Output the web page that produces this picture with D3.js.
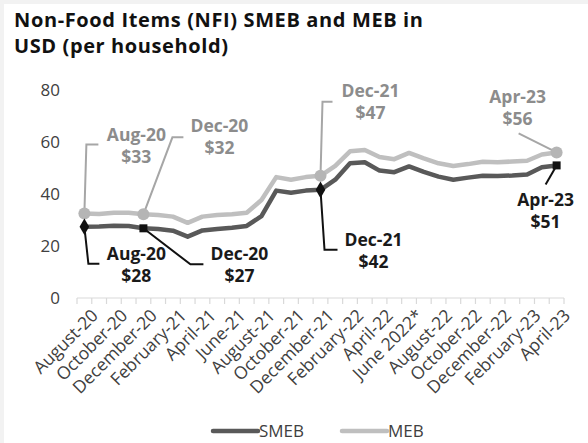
<!DOCTYPE html>
<html><head><meta charset="utf-8">
<script src="https://cdn.jsdelivr.net/npm/d3@7"></script>
<style>
body{margin:0;background:#fff;}
svg{display:block;font-family:"Open Sans",sans-serif;}
</style></head>
<body>
<svg id="c" width="588" height="443"></svg>
<script>
const categories = ["August-20","September-20","October-20","November-20","December-20","January-21","February-21","March-21","April-21","May-21","June-21","July-21","August-21","September-21","October-21","November-21","December-21","January-22","February-22","March-22","April-22","May-22","June 2022*","July-22","August-22","September-22","October-22","November-22","December-22","January-23","February-23","March-23","April-23"];
const smeb = [27.4,27.5,27.8,27.7,26.8,26.5,25.9,23.6,26.0,26.5,27.0,27.7,31.5,41.3,40.5,41.3,41.6,45.5,51.8,52.2,49.0,48.4,50.6,48.5,46.7,45.5,46.3,47.0,46.9,47.1,47.5,50.3,51.0];
const meb = [32.5,32.3,32.8,32.8,32.2,31.9,31.3,28.9,31.3,31.9,32.2,32.8,37.7,46.5,45.5,46.5,47.0,50.8,56.4,56.9,54.2,53.4,55.8,53.7,51.8,50.8,51.5,52.4,52.2,52.5,52.8,55.2,56.0];
const yTicks = [0,20,40,60,80];
const seriesNames = ["SMEB","MEB"];
const annotations = [
  {series:"MEB", cat:"August-20", l1:"Aug-20", l2:"$33"},
  {series:"MEB", cat:"December-20", l1:"Dec-20", l2:"$32"},
  {series:"MEB", cat:"December-21", l1:"Dec-21", l2:"$47"},
  {series:"MEB", cat:"April-23", l1:"Apr-23", l2:"$56"},
  {series:"SMEB", cat:"August-20", l1:"Aug-20", l2:"$28"},
  {series:"SMEB", cat:"December-20", l1:"Dec-20", l2:"$27"},
  {series:"SMEB", cat:"December-21", l1:"Dec-21", l2:"$42"},
  {series:"SMEB", cat:"April-23", l1:"Apr-23", l2:"$51"}
];

const svg = d3.select("#c");
const colSMEB = "#595959", colMEB = "#bfbfbf";
svg.append("rect").attr("x",0).attr("y",0).attr("width",588).attr("height",4).attr("fill","#f2f2f2");
svg.append("rect").attr("x",0).attr("y",0).attr("width",4).attr("height",443).attr("fill","#f2f2f2");

// title
const title = svg.append("g").attr("font-weight","bold").attr("font-size",20).attr("fill","#111");
title.append("text").attr("x",14).attr("y",27).attr("textLength",409).attr("lengthAdjust","spacing").text("Non-Food  Items (NFI) SMEB and MEB in");
title.append("text").attr("x",14).attr("y",53).attr("textLength",214).attr("lengthAdjust","spacing").text("USD (per household)");

const x = d3.scaleBand().domain(categories).range([77,564]).padding(0);
const y = d3.scaleLinear().domain([0,80]).range([298,90]);
const cx = c => x(c) + x.bandwidth()/2;

// y labels
svg.append("g").selectAll("text").data(yTicks).join("text")
  .attr("x",60).attr("y",d=>y(d)).attr("dy","0.35em").attr("text-anchor","end")
  .attr("font-size",17).attr("fill","#404040").text(d=>d);

// x axis
const xa = svg.append("g");
xa.append("line").attr("x1",x.range()[0]).attr("x2",x.range()[1]).attr("y1",y(0)).attr("y2",y(0))
  .attr("stroke","#d9d9d9").attr("stroke-width",1.2);
const bounds = categories.map(c=>x(c)).concat([x.range()[1]]);
xa.selectAll("line.t").data(bounds).join("line").attr("class","t")
  .attr("x1",d=>d).attr("x2",d=>d).attr("y1",y(0)).attr("y2",y(0)+6)
  .attr("stroke","#d9d9d9").attr("stroke-width",1.2);
xa.selectAll("text").data(categories.filter((c,i)=>i%2===0)).join("text")
  .attr("text-anchor","end").attr("font-size",17.5).attr("fill","#404040")
  .attr("transform",d=>`translate(${cx(d)+6},${y(0)+10}) rotate(-45)`)
  .attr("dy","0.7em").text(d=>d);

// lines
const line = d3.line().x((d,i)=>cx(categories[i])).y(d=>y(d));
svg.append("path").datum(meb).attr("d",line).attr("fill","none").attr("stroke",colMEB).attr("stroke-width",4.5).attr("stroke-linejoin","round");
svg.append("path").datum(smeb).attr("d",line).attr("fill","none").attr("stroke",colSMEB).attr("stroke-width",4.5).attr("stroke-linejoin","round");

const layout = {
  "MEB|August-20": {lead:[[2,-69],[14,-69]], tx:52, ty:-73},
  "MEB|December-20": {lead:[[29,-77],[40,-77]], tx:76, ty:-82},
  "MEB|December-21": {lead:[[2,-74],[12,-74]], tx:50, ty:-79},
  "MEB|April-23": {lead:[[-38,-19]], tx:-39, ty:-49},
  "SMEB|August-20": {lead:[[4,37],[15,37]], tx:52, ty:33},
  "SMEB|December-20": {lead:[[47,36],[60,36]], tx:96, ty:32},
  "SMEB|December-21": {lead:[[4,60],[17,60]], tx:53, ty:56},
  "SMEB|April-23": {lead:[[-11,19]], tx:-11, ty:41}
};
const dataOf = {SMEB:smeb, MEB:meb};
annotations.forEach(a=>{
  const i = categories.indexOf(a.cat);
  const px = cx(a.cat), py = y(dataOf[a.series][i]);
  const L = layout[a.series+"|"+a.cat];
  const isM = a.series==="MEB";
  const lc = isM ? "#a6a6a6" : "#111";
  const pts = [[px,py]].concat(L.lead.map(p=>[px+p[0],py+p[1]]));
  svg.append("path").attr("d",d3.line()(pts)).attr("fill","none").attr("stroke",lc).attr("stroke-width",2);
  const t = svg.append("text").attr("text-anchor","middle").attr("font-weight","bold").attr("font-size",17.5)
    .attr("fill", isM ? "#8c8c8c" : "#1a1a1a");
  t.append("tspan").attr("x",px+L.tx).attr("y",py+L.ty).text(a.l1);
  t.append("tspan").attr("x",px+L.tx).attr("y",py+L.ty+22).text(a.l2);
});
annotations.forEach(a=>{
  const i = categories.indexOf(a.cat);
  const px = cx(a.cat), py = y(dataOf[a.series][i]);
  if (a.series==="MEB") {
    svg.append("circle").attr("cx",px).attr("cy",py).attr("r",6).attr("fill","#b5b5b5");
  } else {
    const sq = (a.cat==="December-20"||a.cat==="April-23");
    svg.append("path").attr("d",d3.symbol().type(sq?d3.symbolSquare:d3.symbolDiamond).size(sq?64:80)())
      .attr("transform",`translate(${px},${py})`).attr("fill","#111");
  }
});

// legend
const lg = svg.append("g");
[["SMEB",colSMEB,213,258,259],["MEB",colMEB,342,387,388]].forEach(d=>{
  lg.append("line").attr("x1",d[2]).attr("x2",d[3]).attr("y1",431).attr("y2",431)
    .attr("stroke",d[1]).attr("stroke-width",4.5).attr("stroke-linecap","round");
  lg.append("text").attr("x",d[4]).attr("y",431).attr("dy","0.35em").attr("font-size",17).attr("fill","#404040").text(d[0]);
});
</script>
</body></html>
